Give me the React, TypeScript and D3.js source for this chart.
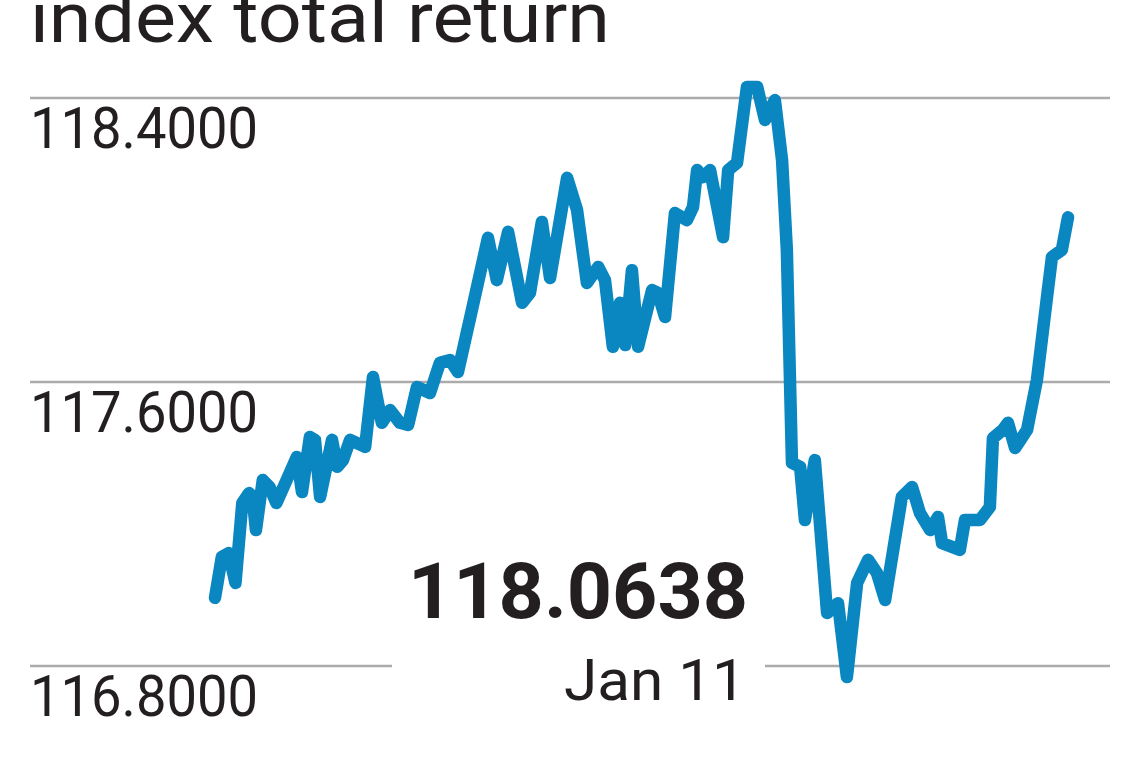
import React from "react";
import * as d3 from "d3";

const titleText = "index total return";
const yTicks = [118.4, 117.6, 116.8];
const lastValueLabel = "118.0638";
const lastDateLabel = "Jan 11";

// trading-day position (approx) and index value
const days = [
  0, 2, 4, 6, 8, 10, 11, 12, 14, 16, 18, 21, 24, 25.5, 27.8, 29.3, 30.8, 34.3, 35.8, 37.5,
  39.6, 44, 46.3, 48.9, 51.3, 54.2, 56.6, 59.2, 63, 65.9, 68.9, 71.2, 75.3, 80, 82.6, 85.9,
  90, 92.3, 95.8, 98.2, 103.2, 106.1, 109, 112.3, 114.3, 116.6, 118.7, 120.2, 122.2, 124,
  128.1, 129.8, 131.9, 134.8, 138.3, 140.1, 141.3, 143, 145.1, 148.9, 150.4, 153, 155.9,
  158.9, 161.2, 164.1, 166.2, 167.6, 169.1, 171.5, 172.9, 175.8, 179.4, 182.6, 185.2, 188.2,
  191.4, 194, 196.4, 201.3, 204.3, 206.6, 209.6, 211.9, 213.1, 218.3, 219.8, 224.2, 227.1,
  228, 230.9, 232.4, 234.5, 238, 240.9, 244.1, 245.3, 248.2, 250,
];
const values = [
  116.992, 117.107, 117.118, 117.034, 117.259, 117.287, 117.276, 117.183, 117.324, 117.304,
  117.259, 117.324, 117.389, 117.29, 117.445, 117.437, 117.276, 117.437, 117.361, 117.38,
  117.437, 117.417, 117.614, 117.485, 117.521, 117.485, 117.479, 117.586, 117.569, 117.654,
  117.662, 117.628, 117.803, 118.006, 117.887, 118.023, 117.823, 117.851, 118.051, 117.893,
  118.175, 118.085, 117.879, 117.924, 117.887, 117.699, 117.823, 117.704, 117.915, 117.699,
  117.859, 117.851, 117.783, 118.076, 118.056, 118.093, 118.197, 118.177, 118.197, 118.008,
  118.197, 118.217, 118.431, 118.431, 118.338, 118.394, 118.225, 117.972, 117.372, 117.361,
  117.211, 117.38, 116.949, 116.977, 116.769, 117.034, 117.099, 117.062, 116.986, 117.276,
  117.304, 117.231, 117.183, 117.22, 117.146, 117.127, 117.211, 117.211, 117.248, 117.442,
  117.465, 117.485, 117.414, 117.465, 117.606, 117.859, 117.952, 117.972, 118.0638,
];

const W = 1140;
const H = 760;
const FONT = "'Liberation Sans Narrow', Roboto, 'Noto Sans', sans-serif";

export default function App() {
  const x = d3.scaleLinear().domain([0, 250]).range([215, 1068]);
  const y = d3.scaleLinear().domain([116.8, 118.4]).range([666, 98]);
  const fmt = d3.format(".4f");
  const data = days.map((d, i) => ({ d, v: values[i] }));
  const line = d3
    .line<{ d: number; v: number }>()
    .x((p) => x(p.d))
    .y((p) => y(p.v));

  const gridLeft = 30;
  const gridRight = 1110;
  const labelW = [228, 228, 228];

  return (
    <div style={{ position: "absolute", left: 0, top: 0 }}>
      <svg width={W} height={H} style={{ display: "block", background: "#fff" }}>
        <text
          x={30}
          y={42}
          fontFamily={FONT}
          fontSize={70}
          fill="#231f20"
          textLength={580}
          lengthAdjust="spacingAndGlyphs"
        >
          {titleText}
        </text>
        {yTicks.map((t, i) => {
          const yy = y(t);
          const isBottom = i === yTicks.length - 1;
          return (
            <g key={t}>
              {isBottom ? (
                <>
                  <line x1={gridLeft} x2={392} y1={yy} y2={yy} stroke="#ababab" strokeWidth={2.5} />
                  <line x1={765} x2={gridRight} y1={yy} y2={yy} stroke="#ababab" strokeWidth={2.5} />
                </>
              ) : (
                <line x1={gridLeft} x2={gridRight} y1={yy} y2={yy} stroke="#ababab" strokeWidth={2.5} />
              )}
              <text
                x={30}
                y={yy + 50}
                fontFamily={FONT}
                fontSize={57}
                fill="#231f20"
                textLength={labelW[i]}
                lengthAdjust="spacingAndGlyphs"
              >
                {fmt(t)}
              </text>
            </g>
          );
        })}
        <path
          d={line(data) || ""}
          fill="none"
          stroke="#0a86c0"
          strokeWidth={12.5}
          strokeLinejoin="round"
          strokeLinecap="round"
        />
        <text
          x={748}
          y={618}
          textAnchor="end"
          fontFamily={FONT}
          fontWeight="bold"
          fontSize={77}
          fill="#231f20"
          textLength={340}
          lengthAdjust="spacingAndGlyphs"
        >
          {lastValueLabel}
        </text>
        <text
          x={746}
          y={700}
          textAnchor="end"
          fontFamily={FONT}
          fontSize={58}
          fill="#231f20"
          textLength={182}
          lengthAdjust="spacingAndGlyphs"
        >
          {lastDateLabel}
        </text>
      </svg>
    </div>
  );
}
